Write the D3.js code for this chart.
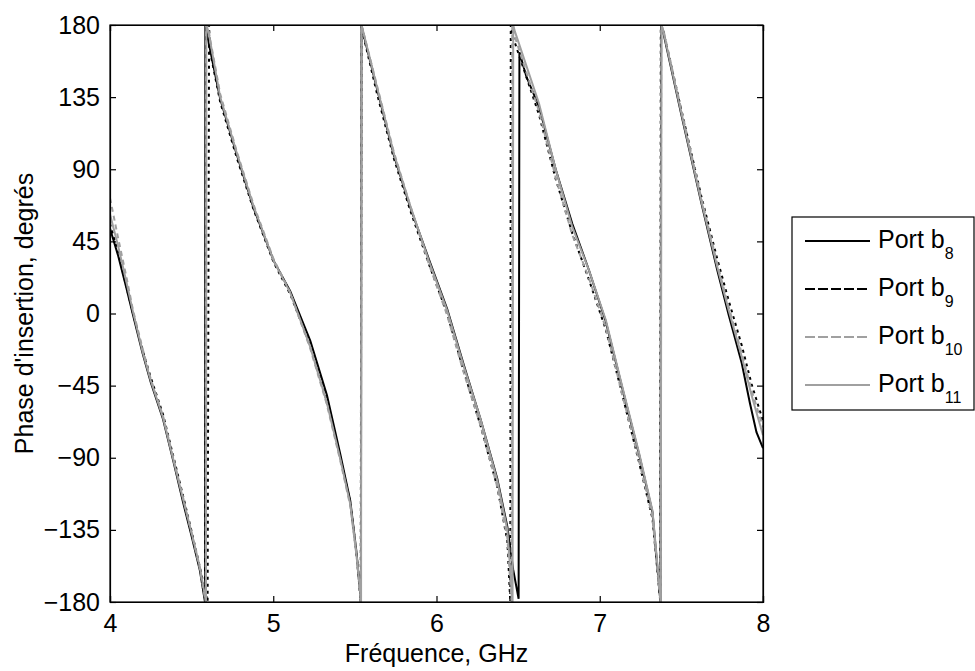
<!DOCTYPE html>
<html>
<head>
<meta charset="utf-8">
<script src="https://cdn.jsdelivr.net/npm/d3@7"></script>
<style>
  body { margin: 0; background: #fff; }
  svg { display: block; font-family: "Liberation Sans", Arial, sans-serif; }
</style>
</head>
<body>
<div id="chart"></div>
<script>
// tick values
const xTicks = [4, 5, 6, 7, 8];
const yTicks = [-180, -135, -90, -45, 0, 45, 90, 135, 180];

// series names
const seriesNames = ["8", "9", "10", "11"];

// [frequence GHz, phase deg] (wraps at +/-180)
const portB8 = [
  [4.000, 53], [4.05, 36], [4.10, 16], [4.141, -1], [4.20, -25], [4.25, -43], [4.325, -66],
  [4.39, -93], [4.448, -118], [4.50, -139], [4.55, -160], [4.582, -180],
  [4.584, 180], [4.600, 171], [4.675, 134], [4.777, 99], [4.879, 66], [5.002, 33], [5.104, 14],
  [5.227, -17], [5.329, -51], [5.411, -88], [5.472, -117], [5.510, -149], [5.537, -180],
  [5.540, 180], [5.546, 177], [5.636, 140], [5.738, 99], [5.840, 66], [5.953, 34], [6.065, 3],
  [6.167, -32], [6.270, -66], [6.372, -103], [6.434, -133], [6.470, -160], [6.503, -178],
  [6.508, 163], [6.55, 148], [6.628, 129], [6.730, 90], [6.832, 56], [6.934, 27], [7.037, -5],
  [7.139, -47], [7.241, -88], [7.323, -124], [7.372, -180],
  [7.376, 180], [7.39, 175], [7.50, 124], [7.62, 70], [7.72, 27], [7.79, -1], [7.87, -31],
  [7.92, -56], [7.96, -74], [8.0, -84]
];
const portB9 = [
  [4.000, 56], [4.05, 38], [4.10, 17], [4.141, 0], [4.20, -23], [4.25, -40], [4.325, -63],
  [4.39, -90], [4.448, -114], [4.50, -136], [4.55, -158], [4.598, -180],
  [4.607, 180], [4.612, 164], [4.675, 132], [4.777, 97], [4.879, 65], [5.002, 32], [5.104, 12],
  [5.227, -20], [5.329, -55], [5.411, -90], [5.472, -118], [5.510, -150], [5.536, -180],
  [5.540, 180], [5.546, 176], [5.636, 137], [5.738, 97], [5.840, 64], [5.953, 31], [6.065, 0],
  [6.167, -36], [6.270, -70], [6.372, -108], [6.434, -142], [6.452, -180],
  [6.455, 180], [6.470, 172], [6.628, 124], [6.730, 84], [6.832, 50], [6.934, 21], [7.037, -10],
  [7.139, -51], [7.241, -93], [7.323, -128], [7.371, -180],
  [7.374, 180], [7.39, 176], [7.50, 127], [7.62, 74], [7.72, 34], [7.79, 8], [7.87, -20],
  [7.93, -44], [8.0, -67]
];
const portB10 = [
  [4.000, 72], [4.05, 47], [4.10, 23], [4.141, 2], [4.20, -22], [4.25, -41], [4.325, -64],
  [4.39, -91], [4.448, -115], [4.50, -137], [4.55, -159], [4.586, -180],
  [4.589, 180], [4.603, 177], [4.675, 137], [4.777, 101], [4.879, 68], [5.002, 34], [5.104, 13],
  [5.227, -22], [5.329, -57], [5.411, -92], [5.472, -120], [5.510, -151], [5.537, -180],
  [5.540, 180], [5.546, 178], [5.636, 142], [5.738, 101], [5.840, 67], [5.953, 31], [6.065, -1],
  [6.167, -37], [6.270, -70], [6.372, -108], [6.434, -140], [6.460, -180],
  [6.464, 180], [6.476, 174], [6.628, 126], [6.730, 85], [6.832, 49], [6.934, 22], [7.037, -9],
  [7.139, -51], [7.241, -92], [7.323, -127], [7.372, -180],
  [7.377, 180], [7.39, 177], [7.50, 127], [7.62, 73], [7.72, 31], [7.79, 4], [7.87, -25],
  [7.93, -48], [8.0, -71]
];
const portB11 = [
  [4.000, 62], [4.05, 42], [4.10, 20], [4.141, 1], [4.20, -24], [4.25, -42], [4.325, -65],
  [4.39, -92], [4.448, -116], [4.50, -137], [4.55, -158], [4.588, -180],
  [4.590, 180], [4.603, 176], [4.675, 135], [4.777, 100], [4.879, 67], [5.002, 33], [5.104, 13],
  [5.227, -21], [5.329, -56], [5.411, -91], [5.472, -119], [5.510, -150], [5.538, -180],
  [5.540, 180], [5.546, 178], [5.636, 141], [5.738, 100], [5.840, 67], [5.953, 33], [6.065, 2],
  [6.167, -33], [6.270, -66], [6.372, -104], [6.434, -135], [6.466, -180],
  [6.470, 180], [6.480, 176], [6.628, 131], [6.730, 90], [6.832, 54], [6.934, 27], [7.037, -4],
  [7.139, -46], [7.241, -87], [7.323, -123], [7.374, -180],
  [7.378, 180], [7.39, 176], [7.50, 125], [7.62, 71], [7.72, 29], [7.79, 2], [7.87, -27],
  [7.93, -51], [8.0, -76]
];

const allSeries = [portB8, portB9, portB10, portB11];
const styles = [
  {color: "#000", dash: null, legendDash: null},
  {color: "#000", dash: "3,4", legendDash: "10,3"},
  {color: "#a0a0a0", dash: "5,4", legendDash: "10,3"},
  {color: "#a0a0a0", dash: null, legendDash: null}
];

const width = 975, height = 671;
const margin = {top: 25, right: 212, bottom: 69, left: 110};
const innerWidth = width - margin.left - margin.right;
const innerHeight = height - margin.top - margin.bottom;
const fontSize = 25;

const svg = d3.select("#chart").append("svg")
  .attr("width", width)
  .attr("height", height)
  .attr("font-family", "Liberation Sans, Arial, sans-serif")
  .attr("font-size", fontSize);

const x = d3.scaleLinear().domain([4, 8]).range([0, innerWidth]);
const y = d3.scaleLinear().domain([-180, 180]).range([innerHeight, 0]);

const g = svg.append("g")
  .attr("transform", `translate(${margin.left}, ${margin.top})`);

g.append("clipPath").attr("id", "clip")
  .append("rect").attr("width", innerWidth).attr("height", innerHeight);

// lines
const line = d3.line()
  .x(d => x(d[0]))
  .y(d => y(d[1]));

g.append("g")
  .attr("clip-path", "url(#clip)")
  .selectAll("path")
  .data(allSeries)
  .enter()
  .append("path")
    .attr("d", d => line(d))
    .attr("fill", "none")
    .attr("stroke", (d, i) => styles[i].color)
    .attr("stroke-width", 2)
    .attr("stroke-dasharray", (d, i) => styles[i].dash);

// axes, ticks inside like matlab
const tickLen = 6;

const xAxis = d3.axisBottom(x).tickValues(xTicks).tickSize(-tickLen).tickPadding(12).tickFormat(d3.format("d"));
const yAxis = d3.axisLeft(y).tickValues(yTicks).tickSize(-tickLen).tickPadding(10).tickFormat(d3.format("d"));

const xg = g.append("g")
  .attr("transform", `translate(0, ${innerHeight})`)
  .call(xAxis);
const yg = g.append("g")
  .call(yAxis);

// mirrored ticks on top and right (no labels)
const topAxis = g.append("g")
  .call(d3.axisTop(x).tickValues(xTicks).tickSize(-tickLen));
const rightAxis = g.append("g")
  .attr("transform", `translate(${innerWidth}, 0)`)
  .call(d3.axisRight(y).tickValues(yTicks).tickSize(-tickLen));
topAxis.selectAll("text").remove();
rightAxis.selectAll("text").remove();

[xg, yg, topAxis, rightAxis].forEach(a => a
  .attr("font-size", fontSize)
  .attr("font-family", "Liberation Sans, Arial, sans-serif"));

g.selectAll(".domain").attr("stroke", "#000").attr("stroke-width", 1.2);
g.selectAll(".tick line").attr("stroke", "#000").attr("stroke-width", 1.2);
g.selectAll(".tick text").attr("fill", "#000");

g.append("rect")
  .attr("width", innerWidth).attr("height", innerHeight)
  .attr("fill", "none").attr("stroke", "#000").attr("stroke-width", 1.2);

// axis labels
svg.append("text")
  .attr("x", margin.left + innerWidth / 2)
  .attr("y", 662)
  .attr("text-anchor", "middle")
  .text("Fréquence, GHz");

svg.append("text")
  .attr("transform", `translate(33, ${margin.top + innerHeight / 2}) rotate(-90)`)
  .attr("text-anchor", "middle")
  .text("Phase d'insertion, degrés");

// legend
const legend = svg.append("g").attr("transform", "translate(792, 217)");
legend.append("rect")
  .attr("width", 182).attr("height", 193)
  .attr("fill", "#fff").attr("stroke", "#000").attr("stroke-width", 1.2);

const items = legend.selectAll("g.item")
  .data(seriesNames)
  .enter()
  .append("g")
    .attr("class", "item")
    .attr("transform", (d, i) => `translate(0, ${24 + i * 48})`);

items.append("line")
  .attr("x1", 13).attr("x2", 78)
  .attr("stroke", (d, i) => styles[i].color)
  .attr("stroke-width", 2)
  .attr("stroke-dasharray", (d, i) => styles[i].legendDash);

const label = items.append("text")
  .attr("x", 86)
  .attr("y", 7);
label.append("tspan").text("Port b");
label.append("tspan")
  .attr("dy", 11)
  .attr("font-size", 16)
  .text(d => d);
</script>
</body>
</html>
